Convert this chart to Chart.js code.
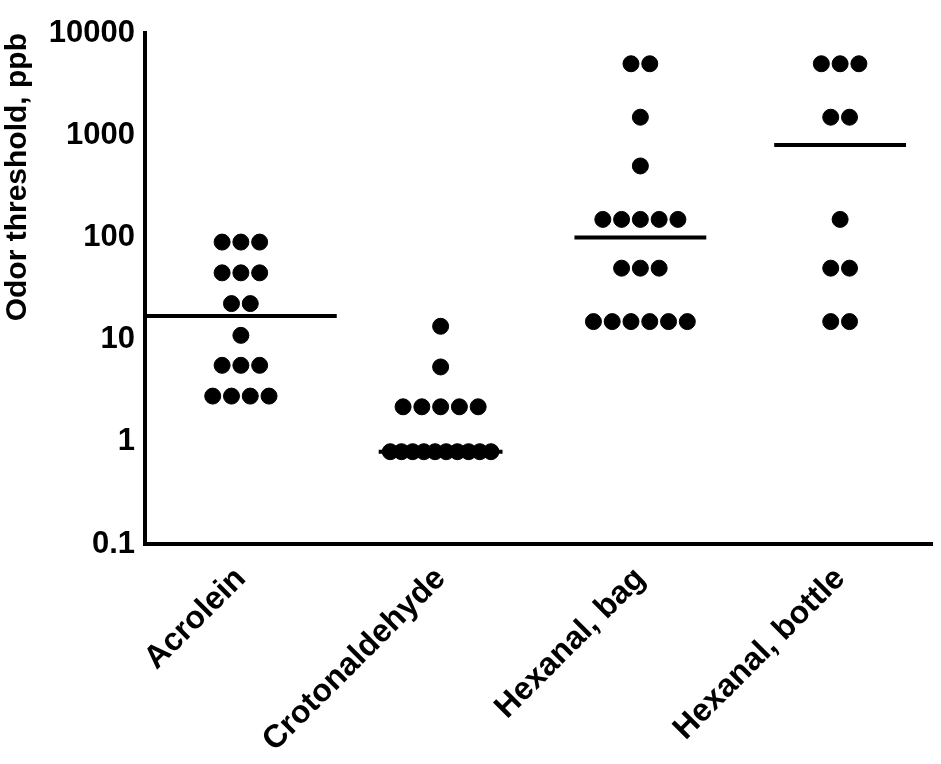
<!DOCTYPE html>
<html>
<head>
<meta charset="utf-8">
<script src="https://cdn.jsdelivr.net/npm/chart.js@4/dist/chart.umd.min.js"></script>
<style>
  html, body { margin: 0; padding: 0; background: #fff; }
  #wrap { width: 941px; height: 764px; }
</style>
</head>
<body>
<div id="wrap"><canvas id="c"></canvas></div>
<script>
const categories = ['Acrolein', 'Crotonaldehyde', 'Hexanal, bag', 'Hexanal, bottle'];
// each row: [value, number of points at that value]
const acrolein = [[90, 3], [45, 3], [22.5, 2], [11, 1], [5.6, 3], [2.8, 4]];
const crotonaldehyde = [[13.5, 1], [5.4, 1], [2.2, 5], [0.8, 10]];
const hexanalBag = [[5000, 2], [1500, 1], [500, 1], [150, 5], [50, 3], [15, 6]];
const hexanalBottle = [[5000, 3], [1500, 2], [150, 1], [50, 2], [15, 2]];
const medians = [17, 0.8, 100, 800];
const medianHalfWidth = [0.48, 0.31, 0.33, 0.33];
const yTicks = [0.1, 1, 10, 100, 1000, 10000];

const groups = [acrolein, crotonaldehyde, hexanalBag, hexanalBottle];
const step = 0.094; // horizontal spacing of stacked dots, in category units

// spread dots of equal value side by side around the category centre
const points = [];
groups.forEach((rows, i) => {
  rows.forEach(([v, n]) => {
    const s = n >= 8 ? 0.056 : step;
    for (let k = 0; k < n; k++) {
      points.push({ x: i + (k - (n - 1) / 2) * s, y: v });
    }
  });
});

const medianSets = medians.map((m, i) => ({
  type: 'line',
  data: [{ x: i - medianHalfWidth[i], y: m }, { x: i + medianHalfWidth[i], y: m }],
  borderColor: '#000',
  borderWidth: 4,
  pointRadius: 0,
  order: 0
}));

Chart.defaults.font.family = '"Liberation Sans", Arial, sans-serif';
Chart.defaults.font.weight = 'bold';
Chart.defaults.color = '#000';

new Chart(document.getElementById('c'), {
  type: 'scatter',
  data: {
    datasets: [{
      data: points,
      backgroundColor: '#000',
      borderColor: '#000',
      pointRadius: 8,
      order: 1
    }, ...medianSets]
  },
  options: {
    responsive: true,
    maintainAspectRatio: false,
    animation: false,
    layout: { padding: { top: 33, right: 1, left: 0, bottom: 0 } },
    plugins: { legend: { display: false }, tooltip: { enabled: false } },
    scales: {
      x: {
        type: 'linear',
        min: -0.48,
        max: 3.46,
        afterBuildTicks: ax => { ax.ticks = categories.map((c, i) => ({ value: i })); },
        afterFit: ax => { ax.height = 220; },
        ticks: {
          callback: v => categories[v],
          maxRotation: 45, minRotation: 45,
          font: { size: 32, weight: 'bold' },
          padding: 2
        },
        grid: { display: false, drawTicks: true, tickLength: 14, tickWidth: 3, tickColor: '#000' },
        border: { color: '#000', width: 4 }
      },
      y: {
        type: 'logarithmic',
        min: 0.1,
        max: 10000,
        afterBuildTicks: ax => { ax.ticks = yTicks.map(v => ({ value: v })); },
        afterFit: ax => { ax.width = 145; },
        ticks: {
          callback: v => String(v),
          font: { size: 31, weight: 'bold' },
          padding: 0
        },
        title: {
          display: true,
          text: 'Odor threshold, ppb',
          align: 'end',
          font: { size: 30, weight: 'bold' },
          padding: { top: 0, bottom: 0 }
        },
        grid: { display: false, drawTicks: true, tickLength: 10, tickWidth: 3, tickColor: '#000' },
        border: { color: '#000', width: 4 }
      }
    }
  }
});
</script>
</body>
</html>
